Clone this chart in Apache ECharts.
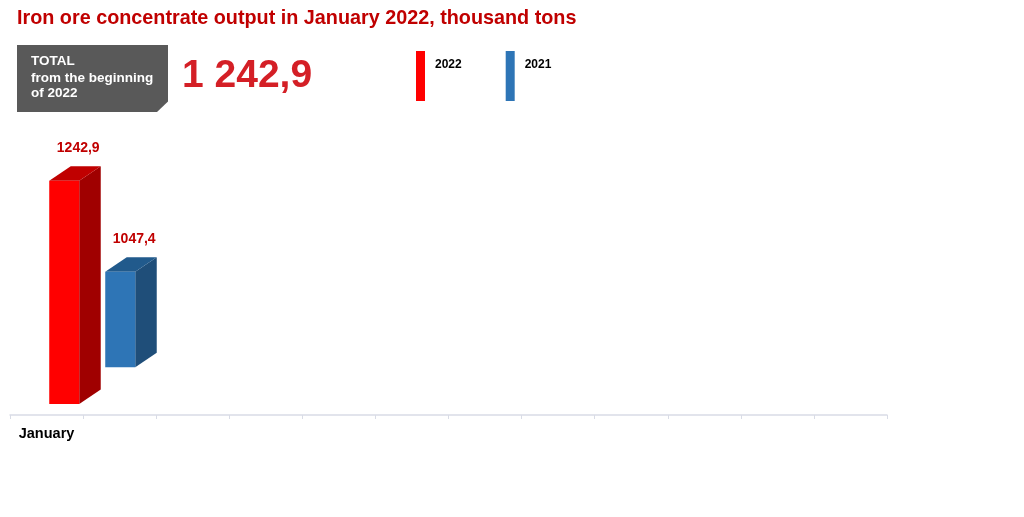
<!DOCTYPE html>
<html>
<head>
<meta charset="utf-8">
<script src="https://cdn.jsdelivr.net/npm/echarts@6/dist/echarts.min.js"></script>
<style>
html,body{margin:0;padding:0;background:#fff;}
#chart{width:1024px;height:517px;}
</style>
</head>
<body>
<div id="chart"></div>
<script>
// ---- data ----
const months = ['January','February','March','April','May','June','July','August','September','October','November','December'];
const seriesNames = ['2022', '2021'];
const values2022 = [1242.9];
const values2021 = [1047.4];
const titleText = 'Iron ore concentrate output in January 2022, thousand tons';
const boxLines = ['TOTAL', 'from the beginning', 'of 2022'];

// ---- helpers ----
function fmtValue(v) { return v.toFixed(1).replace('.', ','); }
function fmtTotal(v) {
  const parts = v.toFixed(1).split('.');
  return parts[0].replace(/\B(?=(\d{3})+(?!\d))/g, ' ') + ',' + parts[1];
}
const total2022 = values2022.reduce((a, b) => a + b, 0);

const FONT = '"Liberation Sans", Arial, sans-serif';
const BAR_W = 30, DX = 21.5, DY = 14.5;

function make3D(offsetX, front, side, topC) {
  return function (params, api) {
    const cat = api.value(0), v = api.value(1);
    const t = api.coord([cat, v]);
    const b = api.coord([cat, 0]);
    const x0 = t[0] + offsetX - BAR_W / 2, x1 = x0 + BAR_W;
    const y0 = t[1], y1 = b[1];
    return {
      type: 'group',
      children: [
        { type: 'polygon', shape: { points: [[x1, y0], [x1 + DX, y0 - DY], [x1 + DX, y1 - DY], [x1, y1]] }, style: { fill: side } },
        { type: 'polygon', shape: { points: [[x0, y0], [x0 + DX, y0 - DY], [x1 + DX, y0 - DY], [x1, y0]] }, style: { fill: topC } },
        { type: 'rect', shape: { x: x0, y: y0, width: BAR_W, height: y1 - y0 }, style: { fill: front } },
        { type: 'text', x: x0 + 29, y: y0 - DY - 18,
          style: { text: fmtValue(v), fill: '#c00000', font: 'bold 14px ' + FONT, align: 'center', verticalAlign: 'middle' } }
      ]
    };
  };
}

const chart = echarts.init(document.getElementById('chart'));
const option = {
  backgroundColor: '#ffffff',
  animation: false,
  title: {
    text: titleText, left: 17, top: 9, padding: 0,
    textStyle: { color: '#c00000', fontSize: 19.8, fontWeight: 'bold', fontFamily: FONT }
  },
  legend: {
    data: seriesNames, left: 416, top: 51, padding: 0, icon: 'rect', itemWidth: 9, itemHeight: 50, itemGap: 44,
    formatter: '{a|{name}}',
    textStyle: {
      color: '#000', fontSize: 12, fontWeight: 'bold', fontFamily: FONT,
      rich: { a: { color: '#000', fontSize: 12, fontWeight: 'bold', fontFamily: FONT, padding: [0, 0, 22, 5] } }
    }
  },
  grid: { left: 10, right: 137, top: 100, bottom: 102 },
  xAxis: {
    type: 'category', data: months, boundaryGap: true,
    axisLine: { onZero: false, lineStyle: { color: '#d9dce6', width: 1.5 } },
    axisTick: { show: true, length: 4, lineStyle: { color: '#d9dce6' } },
    axisLabel: {
      margin: 11, color: '#000', fontSize: 14.5, fontWeight: 'bold', fontFamily: FONT,
      interval: 0,
      formatter: (v, i) => (i < values2022.length ? v : '')
    },
    splitLine: { show: false }
  },
  yAxis: [
    { type: 'value', min: -61.2, max: 1692.1, show: false, splitLine: { show: false } },
    { type: 'value', min: -522.6, max: 2928.5, show: false, splitLine: { show: false } }
  ],
  graphic: [
    { type: 'polygon', shape: { points: [[17, 45], [168, 45], [168, 101.5], [157, 112], [17, 112]] }, style: { fill: '#595959' } },
    { type: 'text', left: 31, top: 54, style: { text: boxLines[0], fill: '#fff', font: 'bold 13.5px ' + FONT } },
    { type: 'text', left: 31, top: 71, style: { text: boxLines[1], fill: '#fff', font: 'bold 13.5px ' + FONT } },
    { type: 'text', left: 31, top: 86.5, style: { text: boxLines[2], fill: '#fff', font: 'bold 13.5px ' + FONT } },
    { type: 'text', left: 182, top: 57, style: { text: fmtTotal(total2022), fill: '#d41f26', font: 'bold 39px ' + FONT } }
  ],
  series: [
    {
      name: seriesNames[0], type: 'custom', xAxisIndex: 0, yAxisIndex: 0,
      itemStyle: { color: '#ff0000' },
      renderItem: make3D(17.7, '#ff0000', '#a00000', '#c00000'),
      encode: { x: 0, y: 1 },
      data: values2022.map((v, i) => [i, v])
    },
    {
      name: seriesNames[1], type: 'custom', xAxisIndex: 0, yAxisIndex: 1,
      itemStyle: { color: '#2e75b6' },
      renderItem: make3D(73.7, '#2e75b6', '#1f4e79', '#215a8c'),
      encode: { x: 0, y: 1 },
      data: values2021.map((v, i) => [i, v])
    }
  ]
};
chart.setOption(option);
</script>
</body>
</html>
